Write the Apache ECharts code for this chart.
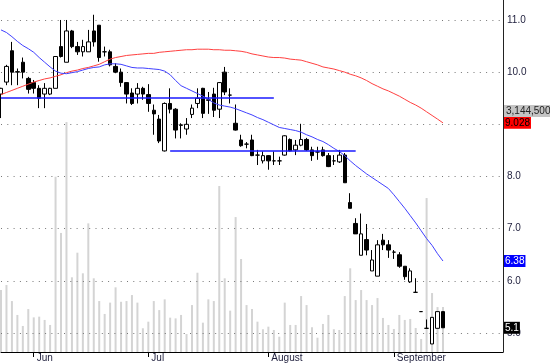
<!DOCTYPE html>
<html><head><meta charset="utf-8">
<script src="https://cdn.jsdelivr.net/npm/echarts@6/dist/echarts.min.js"></script>
<style>html,body{margin:0;padding:0;background:#fff}#c{width:550px;height:364px}</style>
</head><body><div id="c"></div>
<script>
// ---- data ----
const opens  = [9.58,9.81,10.41,10.00,10.19,9.88,9.80,9.69,9.58,9.58,9.69,10.49,10.19,10.79,10.49,10.39,10.39,10.79,10.90,10.39,10.39,10.11,10.00,9.80,9.60,9.58,9.69,9.57,9.27,9.10,8.49,9.40,9.29,8.99,8.91,9.19,9.40,9.69,9.47,9.58,9.29,10.00,9.56,9.02,8.70,8.62,8.70,8.41,8.30,8.40,8.30,8.30,8.41,8.71,8.51,8.60,8.71,8.51,8.47,8.51,8.40,8.30,8.28,8.41,7.50,7.10,6.49,6.79,6.19,6.09,6.78,6.69,6.55,6.50,6.28,5.98,5.78,5.41,5.09,4.79,5.09,5.41];
const closes = [9.69,10.11,10.00,10.01,10.00,9.67,9.69,9.50,9.69,9.69,10.30,10.30,10.79,10.49,10.39,10.49,10.58,10.58,10.28,10.39,10.14,10.00,9.80,9.58,9.40,9.69,9.58,9.40,9.20,8.68,9.40,9.29,8.89,8.98,9.00,9.31,9.50,9.21,9.46,9.27,9.80,9.62,9.56,8.89,8.59,8.62,8.40,8.41,8.40,8.30,8.30,8.30,8.78,8.49,8.60,8.71,8.51,8.40,8.47,8.40,8.19,8.30,8.41,7.88,7.39,6.90,6.90,6.59,6.40,6.69,6.69,6.59,6.55,6.28,6.08,6.19,5.78,5.41,5.09,5.30,5.41,5.1];
const lows   = [9.12,9.75,9.75,9.75,9.88,9.59,9.59,9.31,9.31,9.56,9.69,10.28,10.19,10.46,10.33,10.30,10.39,10.49,10.20,10.30,10.11,9.98,9.72,9.40,9.37,9.40,9.47,9.24,8.80,8.64,8.48,9.21,8.73,8.73,8.80,9.12,9.31,9.12,9.20,9.14,9.12,9.56,9.40,8.88,8.57,8.54,8.39,8.22,8.25,8.13,8.22,8.22,8.40,8.48,8.41,8.58,8.49,8.30,8.32,8.38,8.18,8.22,8.26,7.88,7.39,6.90,6.49,6.49,6.19,6.09,6.59,6.44,6.42,6.25,6.02,5.96,5.78,5.41,5.09,4.79,5.09,5.10];
const highs  = [9.70,10.14,10.58,10.07,10.28,9.91,9.85,9.75,9.79,9.70,10.30,11.00,11.00,10.81,10.58,10.62,10.81,11.10,10.90,10.49,10.43,10.17,10.07,9.81,9.69,9.79,9.72,9.77,9.38,9.18,9.42,9.69,9.31,9.02,9.12,9.38,9.69,9.70,9.62,9.70,9.81,10.10,9.69,9.38,8.80,8.66,8.80,8.51,8.48,8.41,8.48,8.38,8.79,8.73,8.70,9.01,8.74,8.57,8.57,8.57,8.45,8.41,8.51,8.45,7.68,7.20,7.29,7.09,6.59,6.78,6.90,6.78,6.59,6.55,6.28,6.24,6.05,5.41,5.26,5.30,5.41,5.41];
const volumes = [4330000,4680000,3560000,2590000,1820000,3000000,2420000,2470000,2240000,1890000,12250000,8320000,16070000,5220000,6940000,5500000,8990000,5150000,3560000,2660000,3450000,4520000,3510000,3560000,3980000,3450000,1660000,2120000,3560000,2930000,3680000,2400000,2350000,2590000,1260000,3280000,5540000,2050000,3680000,3560000,11600000,5150000,2890000,9430000,6500000,3280000,3000000,2120000,1590000,1770000,1540000,1070000,3450000,1890000,1890000,3910000,3280000,1730000,1000000,1960000,2590000,1590000,1540000,3910000,5850000,3630000,4330000,3630000,3280000,3770000,2380000,1890000,1610000,2590000,2240000,2310000,1680000,910000,10760000,4120000,3140000,3144500];
const maFast = [10.81,10.76,10.68,10.59,10.51,10.45,10.38,10.28,10.19,10.10,10.02,9.98,9.97,9.99,10.01,10.04,10.07,10.09,10.10,10.14,10.16,10.16,10.15,10.12,10.09,10.08,10.08,10.07,10.06,10.05,10.02,9.95,9.84,9.74,9.69,9.64,9.59,9.54,9.48,9.41,9.37,9.35,9.33,9.30,9.26,9.22,9.18,9.13,9.09,9.04,8.99,8.94,8.92,8.90,8.88,8.85,8.80,8.76,8.71,8.67,8.61,8.54,8.48,8.40,8.30,8.21,8.13,8.05,7.98,7.91,7.84,7.77,7.65,7.52,7.39,7.25,7.11,6.96,6.81,6.68,6.52,6.38];
const maSlow = [9.57,9.61,9.65,9.69,9.73,9.77,9.81,9.84,9.87,9.89,9.92,9.95,9.99,10.02,10.04,10.07,10.09,10.12,10.15,10.20,10.25,10.28,10.30,10.32,10.33,10.34,10.35,10.36,10.36,10.38,10.39,10.40,10.41,10.42,10.43,10.43,10.44,10.44,10.44,10.43,10.43,10.42,10.42,10.41,10.40,10.38,10.35,10.33,10.31,10.29,10.28,10.28,10.27,10.25,10.24,10.23,10.20,10.17,10.14,10.10,10.08,10.06,10.03,10.00,9.96,9.93,9.89,9.84,9.78,9.73,9.68,9.64,9.59,9.54,9.48,9.42,9.37,9.31,9.24,9.17,9.10,9.028];
const monthTicks = [6, 27, 49, 72];
const monthNames = ['Jun', 'Jul', 'August', 'September'];
const axisDays = 93;
const priceTicks = [5, 6, 7, 8, 9, 10, 11];
const levelLines = [ {from: 0, to: 50, value: 9.5}, {from: 31, to: 65, value: 8.5} ];

// ---- chart ----
const FONT = '"Liberation Sans", Arial, sans-serif';
const categories = Array.from({length: axisDays}, (_, i) => {
  const k = monthTicks.indexOf(i);
  return k >= 0 ? monthNames[k] : 'd' + i;
});
const candles = opens.map((o, i) => [o, closes[i], lows[i], highs[i]]);
const lastClose = closes[closes.length - 1];
const lastFast = maFast[maFast.length - 1];
const lastSlow = maSlow[maSlow.length - 1];
const lastVolume = volumes[volumes.length - 1];
const yMin = 4.636, yMax = 11.383, volMax = 24600000;

function endTag(value, bg, fg) {
  return {
    yAxis: value,
    lineStyle: {color: 'rgba(0,0,0,0)', width: 0},
    label: {show: true, position: 'end', distance: 1, formatter: String(value),
      backgroundColor: bg, color: fg, padding: [1, 1, 1, 1], fontSize: 10,
      lineHeight: 10, fontFamily: FONT}
  };
}

const chart = echarts.init(document.getElementById('c'));
chart.setOption({
  animation: false,
  backgroundColor: '#fff',
  grid: {left: 1, right: 47, top: 0, bottom: 12},
  xAxis: {
    type: 'category', data: categories, boundaryGap: false,
    axisLine: {show: true, onZero: false, lineStyle: {color: '#000', width: 1}},
    axisTick: {show: true, interval: (i) => monthTicks.includes(i), length: 5, lineStyle: {color: '#000'}},
    axisLabel: {interval: (i) => monthTicks.includes(i), align: 'left', margin: 1,
      padding: [0, 0, 0, 3], fontSize: 10, color: '#1e1e3c', fontFamily: FONT},
    splitLine: {show: false}
  },
  yAxis: [
    {type: 'value', position: 'right', min: yMin, max: yMax,
      axisLine: {show: true, lineStyle: {color: '#222', width: 1}},
      axisTick: {show: false, customValues: priceTicks},
      axisLabel: {customValues: priceTicks, formatter: (v) => v.toFixed(1), margin: 4,
        fontSize: 10, color: '#1e1e3c', fontFamily: FONT},
      splitLine: {show: false}},
    {type: 'value', min: 0, max: volMax, show: false}
  ],
  graphic: [{
    type: 'text', left: 504, top: 105, z: 100,
    style: {text: lastVolume.toLocaleString('en-US'), fill: '#222',
      font: '10px "Liberation Sans", Arial, sans-serif',
      backgroundColor: '#c4c4c4', padding: [1, 2, 1, 2]}
  }],
  series: [
    {type: 'bar', name: 'Volume', yAxisIndex: 1, data: volumes, barWidth: 2, z: 1, silent: true,
      itemStyle: {color: '#d4d4d4'}},
    {type: 'candlestick', name: 'Price', data: candles, barWidth: 4, z: 3, silent: true,
      itemStyle: {color: '#fff', color0: '#000', borderColor: '#000', borderColor0: '#000',
        borderColorDoji: '#000', borderWidth: 1},
      markLine: {silent: true, symbol: 'none', z: 2, animation: false,
        data: priceTicks.map(v => ({yAxis: v, label: {show: false},
          lineStyle: {type: [1, 5.3], color: '#777', width: 1}}))
          .concat([endTag(lastClose, '#000', '#fff')])}},
    {type: 'line', name: 'MA slow', data: maSlow, symbol: 'none', z: 4, silent: true,
      lineStyle: {color: '#ff4040', width: 1},
      markLine: {silent: true, symbol: 'none', animation: false,
        data: [endTag(lastSlow, '#ff0000', '#000')]}},
    {type: 'line', name: 'MA fast', data: maFast, symbol: 'none', z: 4, silent: true,
      lineStyle: {color: '#4040ff', width: 1},
      markLine: {silent: true, symbol: 'none', animation: false,
        data: [endTag(lastFast, '#0000ff', '#fff')].concat(levelLines.map(l => [
          {coord: [l.from, l.value], label: {show: false}, lineStyle: {color: '#1a1aff', width: 1.5, type: 'solid'}},
          {coord: [l.to, l.value]}
        ]))}}
  ]
});
</script></body></html>
